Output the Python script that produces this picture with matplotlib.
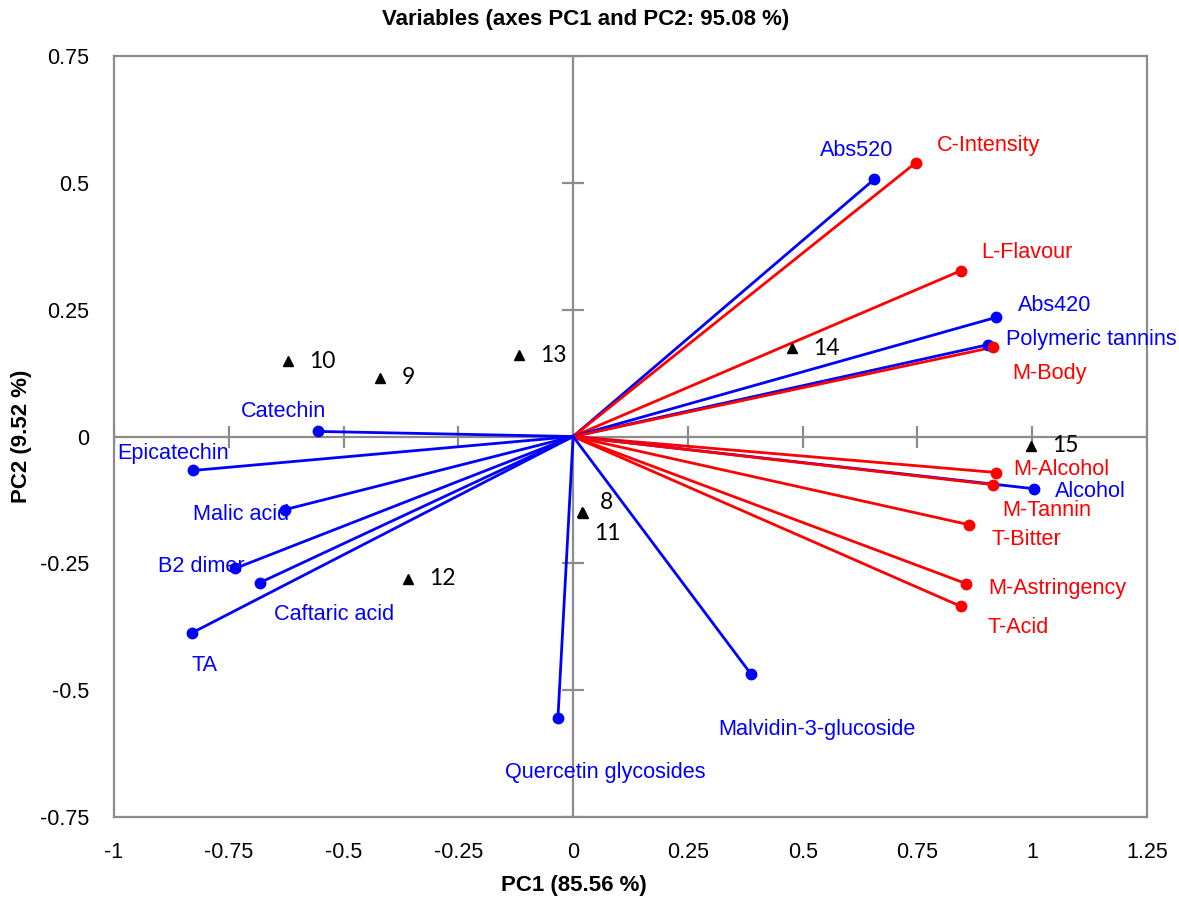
import matplotlib
matplotlib.use('Agg')
import matplotlib.pyplot as plt
import numpy as np

# variable loadings (PC1, PC2)
var_names = ['Abs520', 'C-Intensity', 'L-Flavour', 'Abs420', 'Polymeric tannins',
             'M-Body', 'M-Alcohol', 'Alcohol', 'M-Tannin', 'T-Bitter',
             'M-Astringency', 'T-Acid', 'Malvidin-3-glucoside', 'Quercetin glycosides',
             'TA', 'Caftaric acid', 'B2 dimer', 'Malic acid', 'Epicatechin', 'Catechin']
var_pc1 = [0.656, 0.747, 0.845, 0.922, 0.904, 0.915, 0.922, 1.004, 0.915, 0.863,
           0.856, 0.845, 0.388, -0.033, -0.830, -0.682, -0.736, -0.627, -0.828, -0.556]
var_pc2 = [0.507, 0.540, 0.327, 0.235, 0.181, 0.176, -0.071, -0.103, -0.095, -0.174,
           -0.290, -0.335, -0.469, -0.554, -0.387, -0.288, -0.260, -0.144, -0.067, 0.010]
var_group = ['chem', 'sens', 'sens', 'chem', 'chem', 'sens', 'sens', 'chem', 'sens', 'sens',
             'sens', 'sens', 'chem', 'chem', 'chem', 'chem', 'chem', 'chem', 'chem', 'chem']

# supplementary observations
obs_names = ['10', '9', '13', '14', '15', '8', '11', '12']
obs_pc1 = [-0.621, -0.420, -0.118, 0.477, 0.998, 0.020, 0.021, -0.359]
obs_pc2 = [0.148, 0.116, 0.160, 0.174, -0.018, -0.148, -0.150, -0.280]

x_ticks = [-1, -0.75, -0.5, -0.25, 0, 0.25, 0.5, 0.75, 1, 1.25]
y_ticks = [-0.75, -0.5, -0.25, 0, 0.25, 0.5, 0.75]

COLORS = {'chem': '#0000ff', 'sens': '#ff0000'}
# label offsets in pixels (dx, dy) relative to the point
LABEL_OFF = {
    'Abs520': (-54, 29), 'C-Intensity': (21, 17), 'L-Flavour': (20, 18),
    'Abs420': (22, 12), 'Polymeric tannins': (18, 5), 'M-Body': (19, -26),
    'M-Alcohol': (17, 3), 'Alcohol': (21, -3), 'M-Tannin': (9, -26),
    'T-Bitter': (22, -15), 'M-Astringency': (22, -5), 'T-Acid': (26, -21),
    'Malvidin-3-glucoside': (-33, -55), 'Quercetin glycosides': (-53, -55),
    'TA': (-1, -33), 'Caftaric acid': (14, -32), 'B2 dimer': (-77, 2),
    'Malic acid': (-92, -5), 'Epicatechin': (-76, 17), 'Catechin': (-77, 20),
}
OBS_OFF = {'8': (18, 9), '11': (11, -21)}

fig = plt.figure(figsize=(11.79, 9.06), dpi=100)
ax = fig.add_axes([114 / 1179, 1 - 817 / 906, 1033 / 1179, 761 / 906])
ax.set_xlim(-1, 1.25)
ax.set_ylim(-0.75, 0.75)

grey = '#8c8c8c'
ax.axhline(0, color=grey, lw=1.6, zorder=1)
ax.axvline(0, color=grey, lw=1.6, zorder=1)
ax.plot(x_ticks, np.zeros(len(x_ticks)), ls='none', marker='|', ms=16, mew=1.6,
        color=grey, zorder=1)
ax.plot(np.zeros(len(y_ticks)), y_ticks, ls='none', marker='_', ms=16, mew=1.6,
        color=grey, zorder=1)

for name, x, y, g in zip(var_names, var_pc1, var_pc2, var_group):
    c = COLORS[g]
    ax.plot([0, x], [0, y], color=c, lw=2.0, zorder=3)
    ax.plot(x, y, 'o', color=c, ms=7.5, zorder=4)
    ax.annotate(name, (x, y), xytext=LABEL_OFF[name], textcoords='offset pixels',
                color=c, fontsize=15.6, family='Liberation Sans',
                ha='left', va='center', zorder=5)

ax.plot(obs_pc1, obs_pc2, '^', color='black', ms=7, ls='none', zorder=5)
for name, x, y in zip(obs_names, obs_pc1, obs_pc2):
    ax.annotate(name, (x, y), xytext=OBS_OFF.get(name, (21, 0)),
                textcoords='offset pixels', fontsize=16.5, family='Lato',
                ha='left', va='center', zorder=5)

ax.set_xticks(x_ticks)
ax.set_yticks(y_ticks)
ax.set_xticklabels([f'{v:g}' for v in x_ticks])
ax.set_yticklabels([f'{v:g}' for v in y_ticks])
ax.tick_params(length=0, labelsize=15.5, pad=18)
for lab in ax.get_xticklabels() + ax.get_yticklabels():
    lab.set_family('Liberation Sans')
for sp in ax.spines.values():
    sp.set_color(grey)
    sp.set_linewidth(1.6)

fig.text(574 / 1179, 1 - 885 / 906, 'PC1 (85.56 %)', fontsize=16, fontweight='bold',
         family='Liberation Sans', ha='center', va='center')
fig.text(22 / 1179, 1 - 436 / 906, 'PC2 (9.52 %)', fontsize=16, fontweight='bold',
         family='Liberation Sans', ha='center', va='center', rotation=90)
fig.text(586 / 1179, 1 - 20 / 906, 'Variables (axes PC1 and PC2: 95.08 %)', fontsize=16,
         fontweight='bold', family='Liberation Sans', ha='center', va='center')

fig.savefig('out.png', dpi=100)
